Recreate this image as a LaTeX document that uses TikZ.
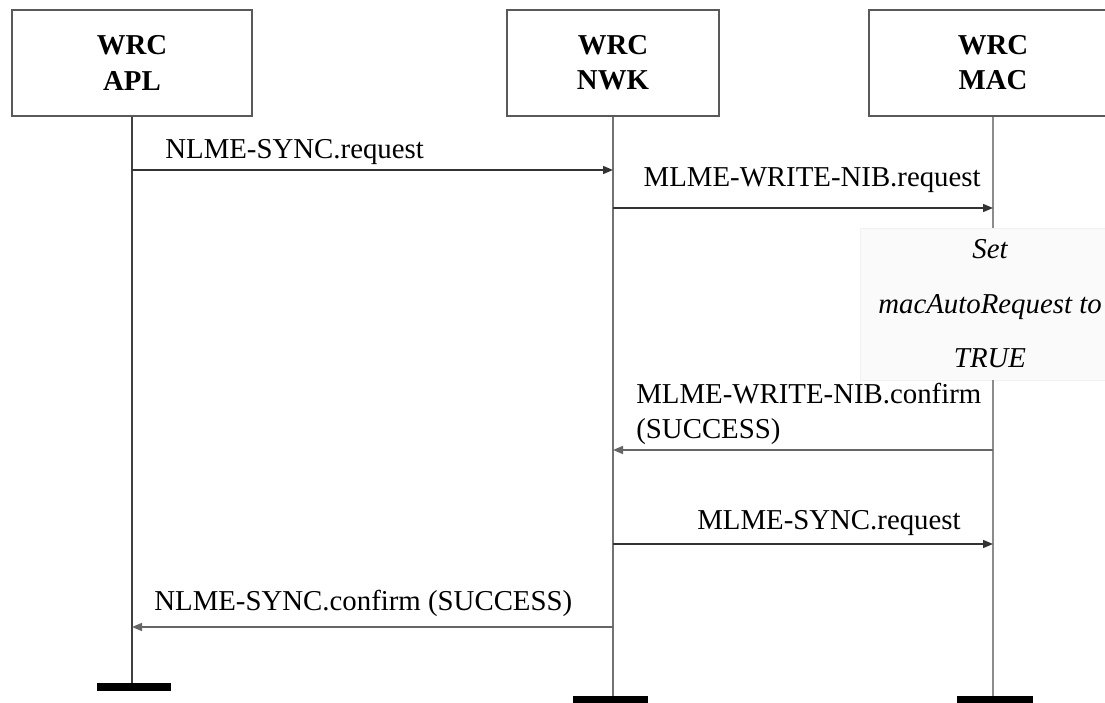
\documentclass[tikz,border=0pt]{standalone}
\usepackage{fontspec}
\setmainfont{Liberation Serif}
\usetikzlibrary{arrows.meta}

\newcommand{\seqfont}{\fontsize{16.4}{20}\selectfont}

\tikzset{
	layer/.style={draw=black!65, line width=1.1pt, minimum height=21.2mm, align=center, inner sep=0pt, font=\seqfont\bfseries},
	life/.style={draw=black!55, line width=1pt},
	msg/.style={draw=black!80, line width=0.9pt, -{Triangle[length=2mm,width=1.6mm]}},
	lbl/.style={inner sep=0pt, align=left},
	note/.style={fill=gray!4, draw=gray!10, minimum width=52mm, minimum height=30.4mm, align=center, inner sep=0pt, font=\fontsize{16.4}{31}\selectfont\itshape},
	endbar/.style={fill=black, inner sep=0pt, minimum height=1.6mm}
}

\begin{document}
\begin{tikzpicture}[x=0.2mm, y=-0.2mm, font=\seqfont]
	\useasboundingbox (0,0) rectangle (1105,703);
	\clip (0,0) rectangle (1105,703);
	
	\node[layer, minimum width=48mm] (apl) at (132,63) {WRC\\APL};
	\node[layer, minimum width=42.4mm] (nwk) at (613,63) {WRC\\NWK};
	\node[layer, minimum width=49.6mm] (mac) at (993,63) {WRC\\MAC};
	
	\node[note] (set) at (990,304) {Set\\macAutoRequest to\\TRUE};
	
	\node[endbar, minimum width=14.8mm] (aplbar) at (134,687) {};
	\node[endbar, minimum width=15mm, minimum height=2.4mm] (nwkbar) at (610,702) {};
	\node[endbar, minimum width=15.2mm, minimum height=2.4mm] (macbar) at (995,702) {};
	
	% lifelines
	\draw[life, draw=black!75] (apl.south) -- (apl.south |- aplbar.north);
	\draw[life] (nwk.south) -- (nwk.south |- nwkbar.north);
	\draw[life, draw=black!45] (mac.south) -- (mac.south |- set.north);
	\draw[life, draw=black!45] (mac.south |- set.south) -- (mac.south |- macbar.north);
	
	% messages
	\coordinate (m1) at (0,170);
	\coordinate (m2) at (0,208);
	\coordinate (m3) at (0,450);
	\coordinate (m4) at (0,544);
	\coordinate (m5) at (0,627);
	
	\draw[msg] (apl |- m1) -- (nwk |- m1);
	\node[lbl, anchor=west] (t1) at (165,152) {NLME-SYNC.request};
	
	\draw[msg] (nwk |- m2) -- (mac |- m2);
	\node[lbl, anchor=east] (t2) at (981,180) {MLME-WRITE-NIB.request};
	
	\draw[msg, draw=black!60] (mac |- m3) -- (nwk |- m3);
	\node[lbl, anchor=west] (t3) at (636,414) {MLME-WRITE-NIB.confirm\\(SUCCESS)};
	
	\draw[msg] (nwk |- m4) -- (mac |- m4);
	\node[lbl, anchor=east] (t4) at (961,523) {MLME-SYNC.request};
	
	\draw[msg, draw=black!60] (nwk |- m5) -- (apl |- m5);
	\node[lbl, anchor=west] (t5) at (154,603) {NLME-SYNC.confirm (SUCCESS)};
	
\end{tikzpicture}
\end{document}
